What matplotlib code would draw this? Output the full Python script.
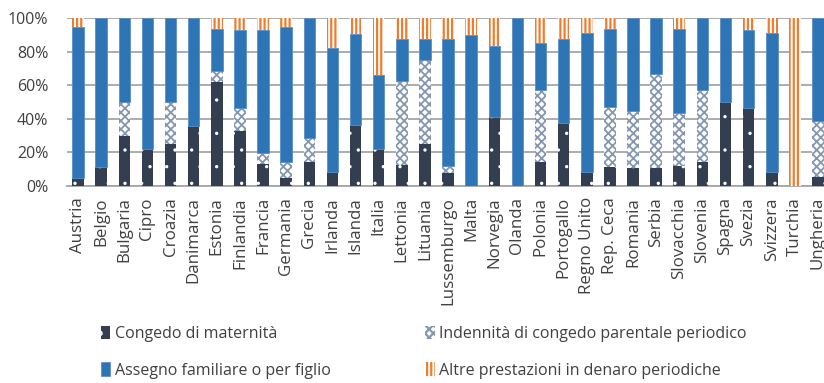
import matplotlib
matplotlib.use("Agg")
import matplotlib.pyplot as plt
import numpy as np

plt.rcParams['font.family'] = ['Open Sans', 'DejaVu Sans']
plt.rcParams['hatch.linewidth'] = 1.6

# quota (%) delle prestazioni periodiche per paese
paesi = ["Austria", "Belgio", "Bulgaria", "Cipro", "Croazia", "Danimarca",
         "Estonia", "Finlandia", "Francia", "Germania", "Grecia", "Irlanda",
         "Islanda", "Italia", "Lettonia", "Lituania", "Lussemburgo", "Malta",
         "Norvegia", "Olanda", "Polonia", "Portogallo", "Regno Unito",
         "Rep. Ceca", "Romania", "Serbia", "Slovacchia", "Slovenia", "Spagna",
         "Svezia", "Svizzera", "Turchia", "Ungheria"]
maternita = [5, 11.5, 30, 22, 25, 35.6, 62.2, 33, 13.3, 4.6, 14.1, 8.5,
             36.2, 21.9, 12.3, 24.9, 8, 0, 41.4, 0, 14.1, 37.4, 8.5,
             11.5, 10.9, 10.9, 12.1, 14.1, 49.9, 46.5, 8.2, 0, 5.6]
parentale = [0, 0, 20, 0, 25, 0, 6.4, 13.3, 6.2, 9.5, 14.3, 0,
             0, 0, 50.1, 50.1, 3.9, 0, 0, 0, 43.2, 0, 0,
             35.4, 33.6, 55.7, 31.4, 42.9, 0, 0, 0, 0, 33.4]
familiare = [89.6, 88.5, 50, 78, 50, 64.4, 25, 46.7, 73.5, 80.9, 71.6, 74,
             54.7, 44.5, 25.1, 12.5, 76, 90, 41.9, 100, 28.2, 50.1, 82.8,
             46.9, 55.5, 33.4, 49.9, 43, 50.1, 46.5, 83.3, 0, 61]
altre = [5.4, 0, 0, 0, 0, 0, 6.4, 7, 7, 5, 0, 17.5,
         9.1, 33.6, 12.5, 12.5, 12.1, 10, 16.7, 0, 14.5, 12.5, 8.7,
         6.2, 0, 0, 6.6, 0, 0, 7, 8.5, 100, 0]

x = np.arange(len(paesi))
w = 0.5
fig = plt.figure(figsize=(8.24, 3.83), dpi=100)
ax = fig.add_axes([0.0813, 0.5144, 0.9187, 0.4379])

m = np.array(maternita)
p = np.array(parentale)
f = np.array(familiare)
a = np.array(altre)

with plt.rc_context({'hatch.linewidth': 0.0}):
    b1 = ax.bar(x, m, w, color='#333F50', edgecolor='white', hatch='.',
                linewidth=0, zorder=3, label='Congedo di maternità')
with plt.rc_context({'hatch.linewidth': 1.3}):
    b2 = ax.bar(x, p, w, bottom=m, color='white', edgecolor='#8497B0', hatch='xxxx',
                linewidth=0, zorder=3, label='Indennità di congedo parentale periodico')
b3 = ax.bar(x, f, w, bottom=m + p, color='#2E75B6', edgecolor='#5B8FC7',
            linewidth=0.6, zorder=3, label='Assegno familiare o per figlio')
b4 = ax.bar(x, a, w, bottom=m + p + f, color='white', edgecolor='#ED7D31', hatch='||||',
            linewidth=0, zorder=3, label='Altre prestazioni in denaro periodiche')

# spessore del tratteggio per serie
for bars, lw in [(b1, 0.0), (b2, 1.3), (b4, 1.6)]:
    for r in bars:
        if hasattr(r, 'set_hatch_linewidth'):
            r.set_hatch_linewidth(lw)

ax.set_xlim(-0.48, 32.26)
ax.set_ylim(0, 100)
ax.set_yticks(np.arange(0, 101, 20))
ax.set_yticklabels([f"{v}%" for v in range(0, 101, 20)])
ax.set_xticks(x)
ax.set_xticklabels(paesi, rotation=90)
ax.tick_params(axis='y', length=0, labelsize=11.5, colors='#404040', pad=13.5)
ax.tick_params(axis='x', length=0, labelsize=12.2, colors='#404040', pad=8)
ax.yaxis.grid(True, color='#A6A6A6', linewidth=1.3, zorder=0)
ax.set_axisbelow(True)
for s in ['left', 'right', 'top']:
    ax.spines[s].set_visible(False)
ax.spines['bottom'].set_color('#A6A6A6')
ax.spines['bottom'].set_linewidth(1.3)

fig.legend([b1, b3, b2, b4],
           [b1.get_label(), b3.get_label(), b2.get_label(), b4.get_label()],
           ncol=2, loc='upper left', bbox_to_anchor=(0.122, 0.15),
           frameon=False, fontsize=11.5, handlelength=0.6, handleheight=0.9,
           handletextpad=0.3, columnspacing=5.9, labelspacing=1.3,
           labelcolor='#404040', borderaxespad=0, borderpad=0)

fig.savefig("out.png", dpi=100)
